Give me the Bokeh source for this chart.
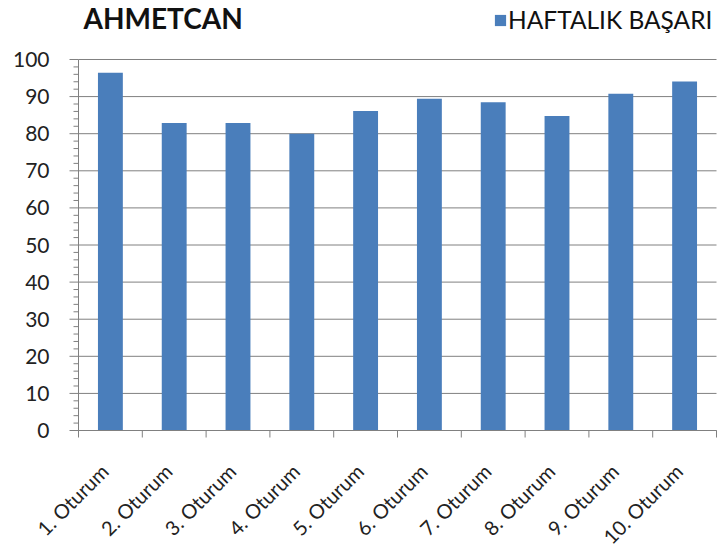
import math
from bokeh.plotting import figure
from bokeh.models import Range1d, Legend, LegendItem, ColumnDataSource, Label
from bokeh.core.properties import value
from bokeh.embed import file_html
from bokeh.resources import INLINE

categories = ["1. Oturum", "2. Oturum", "3. Oturum", "4. Oturum", "5. Oturum",
              "6. Oturum", "7. Oturum", "8. Oturum", "9. Oturum", "10. Oturum"]
basari = [96.4, 82.9, 82.9, 80.0, 86.1, 89.4, 88.5, 84.8, 90.8, 94.1]
series_name = "HAFTALIK BAŞARI"
title_text = "AHMETCAN"
y_ticks = [0, 10, 20, 30, 40, 50, 60, 70, 80, 90, 100]
y_tick_labels = ["0", "10", "20", "30", "40", "50", "60", "70", "80", "90", "100"]
y_minor = [v for v in range(0, 101, 2) if v % 10 != 0]

BAR = "#4a7ebb"
GRID = "#808080"
TXT = "#222222"
FONT = "Lato"
W, H = 723, 552

n = len(categories)
xs = [i + 0.5 for i in range(n)]
bounds_x = list(range(n + 1))
src = ColumnDataSource(dict(x=xs, top=basari, cat=categories))

# frame covers the whole canvas; axes are drawn with glyphs
p = figure(width=W, height=H, output_backend="svg", toolbar_location=None,
           x_range=Range1d(-1.2226, n + 0.1097), y_range=Range1d(-32.88, 115.9),
           min_border_left=0, min_border_right=0, min_border_top=0, min_border_bottom=0)
p.title.visible = False
p.xaxis.visible = False
p.yaxis.visible = False
p.grid.visible = False
p.outline_line_color = None
p.background_fill_color = "white"

# horizontal grid lines
p.segment(x0=[0] * len(y_ticks), y0=y_ticks, x1=[n] * len(y_ticks), y1=y_ticks,
          line_color=GRID, line_width=1)

r = p.vbar(x="x", top="top", width=0.39, bottom=0, source=src, fill_color=BAR, line_color=None)

# y axis
p.segment(x0=[0], y0=[0], x1=[0], y1=[100], line_color=GRID, line_width=1)
p.ray(x=[0] * len(y_ticks), y=y_ticks, length=9, length_units="screen", angle=math.pi,
      line_color=GRID, line_width=1)
p.ray(x=[0] * len(y_minor), y=y_minor, length=5, length_units="screen", angle=math.pi,
      line_color=GRID, line_width=1)
p.text(x=[0] * len(y_ticks), y=y_ticks, text=y_tick_labels, text_align="right",
       text_baseline="middle", x_offset=-29, y_offset=0,
       text_font=value(FONT), text_font_size="21px", text_color=TXT)

# category axis
p.segment(x0=[0], y0=[0], x1=[n], y1=[0], line_color=GRID, line_width=1)
p.ray(x=bounds_x, y=[0] * len(bounds_x), length=7, length_units="screen",
      angle=-math.pi / 2, line_color=GRID, line_width=1)
p.text(x="x", y=0, text="cat", source=src, angle=math.pi / 4,
       text_align="right", text_baseline="middle", x_offset=-6, y_offset=37,
       text_font=value(FONT), text_font_size="20px", text_color=TXT)

p.add_layout(Label(x=83, y=H, x_units="screen", y_units="screen", text=title_text,
                   text_font=FONT, text_font_size="28px", text_font_style="bold",
                   text_color="#111111", text_baseline="top", text_align="left"))

legend = Legend(items=[LegendItem(label=series_name, renderers=[r])],
                location=(493, H - 5 - 29), orientation="horizontal",
                border_line_alpha=0, background_fill_alpha=0,
                padding=0, margin=0, spacing=0,
                glyph_width=14, glyph_height=14, label_standoff=1,
                label_text_font=FONT, label_text_font_size="24.5px",
                label_text_color="#111111")
p.add_layout(legend)

open("out.html", "w").write(file_html(p, INLINE))
